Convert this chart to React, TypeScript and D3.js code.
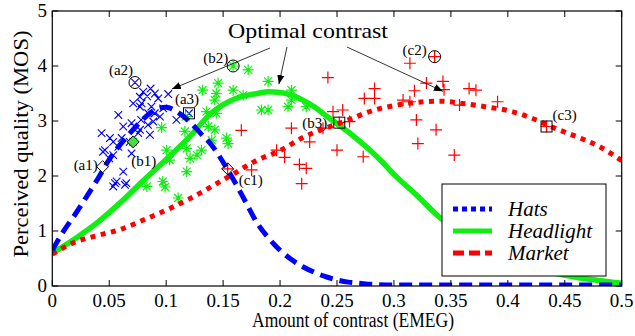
import * as d3 from "d3";

// axis ticks
const xTicks = [0, 0.05, 0.1, 0.15, 0.2, 0.25, 0.3, 0.35, 0.4, 0.45, 0.5];
const yTicks = [0, 1, 2, 3, 4, 5];

// fitted curves [contrast, MOS]
const hatsCurve = [
  [0, 0.65], [0.01, 1.0], [0.02, 1.3], [0.03, 1.62], [0.04, 1.95], [0.05, 2.3], [0.06, 2.58],
  [0.07, 2.82], [0.08, 3.04], [0.09, 3.2], [0.1, 3.25], [0.11, 3.16], [0.12, 3.0], [0.13, 2.78],
  [0.14, 2.56], [0.15, 2.25], [0.16, 1.9], [0.17, 1.52], [0.18, 1.14], [0.19, 0.87], [0.2, 0.65],
  [0.21, 0.48], [0.22, 0.35], [0.23, 0.25], [0.24, 0.17], [0.25, 0.11], [0.26, 0.07], [0.27, 0.05],
  [0.28, 0.03], [0.3, 0.02], [0.35, 0.02], [0.4, 0.02], [0.45, 0.02], [0.5, 0.02],
];
const headlightCurve = [
  [0, 0.6], [0.02, 0.86], [0.04, 1.16], [0.06, 1.52], [0.08, 1.92], [0.1, 2.3], [0.12, 2.7],
  [0.14, 3.15], [0.16, 3.4], [0.18, 3.5], [0.19, 3.53], [0.2, 3.52], [0.21, 3.47], [0.22, 3.38],
  [0.23, 3.26], [0.24, 3.1], [0.25, 2.95], [0.26, 2.8], [0.27, 2.63], [0.28, 2.45], [0.29, 2.25],
  [0.3, 2.03], [0.32, 1.65], [0.34, 1.25], [0.36, 0.95], [0.38, 0.7], [0.4, 0.5], [0.42, 0.35],
  [0.44, 0.24], [0.46, 0.16], [0.48, 0.1], [0.5, 0.05],
];
const marketCurve = [
  [0, 0.58], [0.02, 0.8], [0.04, 0.92], [0.06, 1.03], [0.08, 1.2], [0.1, 1.38], [0.12, 1.58],
  [0.14, 1.81], [0.16, 2.05], [0.18, 2.29], [0.2, 2.46], [0.22, 2.7], [0.24, 2.87], [0.26, 3.02],
  [0.28, 3.18], [0.3, 3.28], [0.32, 3.34], [0.34, 3.36], [0.36, 3.32], [0.38, 3.26], [0.4, 3.19],
  [0.42, 3.06], [0.44, 2.88], [0.46, 2.72], [0.48, 2.54], [0.5, 2.28],
];

// subjective scores
const hatsPoints = [
  [0.0445, 2.44], [0.0433, 2.78], [0.0462, 2.47], [0.05, 2.32], [0.0506, 2.69], [0.0535, 2.38],
  [0.0535, 2.62], [0.0535, 1.81], [0.0565, 1.9], [0.058, 2.53], [0.058, 3.11], [0.0609, 2.69],
  [0.0623, 2.9], [0.0623, 2.08], [0.0638, 1.84], [0.0696, 2.96], [0.0696, 2.41], [0.068, 2.62],
  [0.071, 3.32], [0.0755, 2.78], [0.077, 3.26], [0.077, 2.84], [0.0769, 3.44], [0.0784, 3.32],
  [0.078, 3.02], [0.0798, 3.53], [0.0833, 3.45], [0.0842, 3.14], [0.084, 2.93], [0.0857, 2.75],
  [0.0863, 3.59], [0.087, 3.26], [0.0886, 2.99], [0.09, 3.14], [0.0901, 3.5], [0.093, 3.41],
  [0.0945, 3.08], [0.0974, 3.23], [0.1018, 3.49], [0.109, 3.02], [0.12, 3.14], [0.0726, 3.7],
  [0.065, 1.87], [0.055, 1.87],
];
const headlightPoints = [
  [0.083, 1.81], [0.096, 2.88], [0.1004, 2.47], [0.097, 1.9], [0.099, 1.8], [0.103, 2.29],
  [0.1105, 1.6], [0.118, 2.08], [0.1164, 2.81], [0.117, 3.08], [0.121, 2.32], [0.127, 2.38],
  [0.131, 2.47], [0.132, 3.56], [0.1354, 3.17], [0.137, 2.9], [0.1427, 2.84], [0.14, 2.65],
  [0.144, 3.14], [0.1427, 3.38], [0.144, 3.5], [0.1456, 3.69], [0.153, 2.69], [0.1544, 2.59],
  [0.1588, 3.56], [0.1588, 4.0], [0.172, 3.93], [0.1676, 3.47], [0.1837, 3.2], [0.1895, 3.2],
  [0.1895, 3.72], [0.207, 3.26], [0.21, 3.38], [0.21, 3.56], [0.223, 3.26], [0.071, 2.62],
  [0.118, 2.5],
];
const marketPoints = [
  [0.166, 2.83], [0.175, 2.11], [0.154, 2.13], [0.197, 2.47], [0.204, 2.34], [0.21, 2.87],
  [0.217, 2.21], [0.223, 2.14], [0.219, 1.86], [0.226, 2.62], [0.2377, 2.87], [0.242, 3.79],
  [0.2465, 3.17], [0.25, 2.47], [0.255, 3.2], [0.261, 2.99], [0.273, 2.35], [0.274, 3.41],
  [0.283, 3.41], [0.283, 3.59], [0.308, 3.38], [0.314, 3.35], [0.314, 4.05], [0.318, 3.55],
  [0.3197, 3.02], [0.321, 2.59], [0.3285, 3.69], [0.337, 2.84], [0.343, 3.72], [0.344, 3.57],
  [0.353, 2.38], [0.3576, 3.29], [0.366, 3.59], [0.372, 3.56], [0.391, 3.35], [0.3357, 4.17],
  [0.434, 2.9], [0.252, 2.97],
];

// highlighted images
const picks = [
  { name: "(a1)", shape: "diamond", x: 0.0442, y: 2.17 },
  { name: "(b1)", shape: "diamond", x: 0.071, y: 2.62 },
  { name: "(c1)", shape: "diamond", x: 0.154, y: 2.13 },
  { name: "(a2)", shape: "circle", x: 0.0726, y: 3.7 },
  { name: "(b2)", shape: "circle", x: 0.1588, y: 4.0 },
  { name: "(c2)", shape: "circle", x: 0.3357, y: 4.17 },
  { name: "(a3)", shape: "square", x: 0.12, y: 3.14 },
  { name: "(b3)", shape: "square", x: 0.252, y: 2.97 },
  { name: "(c3)", shape: "square", x: 0.434, y: 2.9 },
];
const labelOffset: Record<string, [number, number]> = {
  "(a1)": [-29, 3], "(b1)": [-2, 24], "(c1)": [11, 16],
  "(a2)": [-26, -8], "(b2)": [-30, -3], "(c2)": [-32, -2],
  "(a3)": [-14, -9], "(b3)": [-37, 5], "(c3)": [6, -7],
};

// arrows from the "Optimal contrast" caption, tips in data units
const arrowTips = [
  [0.105, 3.58],
  [0.199, 3.67],
  [0.343, 3.54],
];
const arrowStarts = [[270, 48], [287, 47], [347, 47]];

const BLUE = "#0000ff";
const GREEN = "#11ee11";
const RED = "#ff0000";
const FONT = "Liberation Serif";

const xMark = (cx: number, cy: number, r: number) =>
  `M${cx - r},${cy - r}L${cx + r},${cy + r}M${cx - r},${cy + r}L${cx + r},${cy - r}`;
const plusMark = (cx: number, cy: number, r: number) =>
  `M${cx - r},${cy}L${cx + r},${cy}M${cx},${cy - r}L${cx},${cy + r}`;
const starMark = (cx: number, cy: number, r: number) =>
  plusMark(cx, cy, r) + xMark(cx, cy, r * 0.72);

export default function App() {
  const x = d3.scaleLinear().domain([0, 0.5]).range([52.3, 621.7]);
  const y = d3.scaleLinear().domain([0, 5]).range([286, 11]);
  const [x0, x1] = x.range();
  const [y0, y1] = y.range();
  const line = d3
    .line<number[]>()
    .x((d) => x(d[0]))
    .y((d) => y(d[1]))
    .curve(d3.curveMonotoneX);

  return (
    <svg width={635} height={336} style={{ position: "absolute", left: 0, top: 0, background: "#fff" }}>
      <defs>
        <marker id="tip" viewBox="0 0 10 10" refX="10" refY="5" markerWidth="9" markerHeight="9" markerUnits="userSpaceOnUse" orient="auto">
          <path d="M0,1L10,5L0,9Z" fill="#000" />
        </marker>
        <clipPath id="plot">
          <rect x={x0} y={y1} width={x1 - x0} height={y0 - y1} />
        </clipPath>
      </defs>

      {/* scatter */}
      <path d={hatsPoints.map((d) => xMark(x(d[0]), y(d[1]), 3.8)).join("")} stroke={BLUE} strokeWidth={1.1} fill="none" />
      <path d={headlightPoints.map((d) => starMark(x(d[0]), y(d[1]), 5.5)).join("")} stroke={GREEN} strokeWidth={1.2} fill="none" />
      <path d={marketPoints.map((d) => plusMark(x(d[0]), y(d[1]), 6)).join("")} stroke={RED} strokeWidth={1.2} fill="none" />

      {/* fitted curves */}
      <g clipPath="url(#plot)" fill="none">
        <path d={line(headlightCurve) ?? ""} stroke={GREEN} strokeWidth={5.5} />
        <path d={line(marketCurve) ?? ""} stroke={RED} strokeWidth={5} strokeDasharray="5,5.5" />
        <path d={line(hatsCurve) ?? ""} stroke={BLUE} strokeWidth={5} strokeDasharray="13,7" />
      </g>

      <g fontFamily={FONT}>
        {/* highlighted samples */}
        {picks.map((p) => {
          const cx = x(p.x);
          const cy = y(p.y);
          const [dx, dy] = labelOffset[p.name];
          let mark;
          if (p.shape === "diamond")
            mark = (
              <path
                d={`M${cx},${cy - 6}L${cx + 6},${cy}L${cx},${cy + 6}L${cx - 6},${cy}Z`}
                fill={p.name === "(b1)" ? "#44dd44" : "none"}
                stroke="#000"
                strokeWidth={1}
              />
            );
          else if (p.shape === "circle") mark = <circle cx={cx} cy={cy} r={6} fill="none" stroke="#000" strokeWidth={1} />;
          else mark = <rect x={cx - 5.5} y={cy - 5.5} width={11} height={11} fill="none" stroke="#000" strokeWidth={1} />;
          return (
            <g key={p.name}>
              {mark}
              <text x={cx + dx} y={cy + dy} fontSize={15} fontFamily={FONT}>
                {p.name}
              </text>
            </g>
          );
        })}

        {/* caption and arrows */}
        <text x={308} y={38} textAnchor="middle" fontSize={21} fontFamily={FONT} textLength={160} lengthAdjust="spacingAndGlyphs">
          Optimal contrast
        </text>
        {arrowTips.map((t, i) => (
          <line
            key={i}
            x1={arrowStarts[i][0]}
            y1={arrowStarts[i][1]}
            x2={x(t[0])}
            y2={y(t[1])}
            stroke="#000"
            strokeWidth={0.8}
            markerEnd="url(#tip)"
          />
        ))}

        {/* axes box and ticks */}
        <rect x={x0} y={y1} width={x1 - x0} height={y0 - y1} fill="none" stroke="#000" strokeWidth={1.2} />
        {xTicks.map((t) => (
          <g key={"x" + t}>
            <line x1={x(t)} x2={x(t)} y1={y0} y2={y0 - 6} stroke="#000" />
            <line x1={x(t)} x2={x(t)} y1={y1} y2={y1 + 6} stroke="#000" />
            <text x={x(t)} y={307} textAnchor="middle" fontSize={19} fontFamily={FONT}>
              {String(t)}
            </text>
          </g>
        ))}
        {yTicks.map((t) => (
          <g key={"y" + t}>
            <line x1={x0} x2={x0 + 6} y1={y(t)} y2={y(t)} stroke="#000" />
            <line x1={x1} x2={x1 - 6} y1={y(t)} y2={y(t)} stroke="#000" />
            <text x={47} y={y(t) + 6} textAnchor="end" fontSize={19} fontFamily={FONT}>
              {t}
            </text>
          </g>
        ))}
        <text x={353} y={327} textAnchor="middle" fontSize={20} fontFamily={FONT} textLength={202} lengthAdjust="spacingAndGlyphs">
          Amount of contrast (EMEG)
        </text>
        <text
          transform="translate(28,144) rotate(-90)"
          textAnchor="middle"
          fontSize={21}
          fontFamily={FONT}
          textLength={227}
          lengthAdjust="spacingAndGlyphs"
        >
          Perceived quality (MOS)
        </text>

        {/* legend */}
        <rect x={442} y={184} width={164} height={92} fill="#fff" stroke="#000" strokeWidth={1} />
        <line x1={453} x2={492} y1={209} y2={209} stroke={BLUE} strokeWidth={5} strokeDasharray="5,4" />
        <line x1={453} x2={492} y1={231} y2={231} stroke={GREEN} strokeWidth={5} />
        <line x1={453} x2={492} y1={253} y2={253} stroke={RED} strokeWidth={5} strokeDasharray="11,5" />
        <text x={508} y={216} fontSize={21} fontStyle="italic" fontFamily={FONT}>Hats</text>
        <text x={508} y={238} fontSize={21} fontStyle="italic" fontFamily={FONT}>Headlight</text>
        <text x={508} y={260} fontSize={21} fontStyle="italic" fontFamily={FONT}>Market</text>
      </g>
    </svg>
  );
}
